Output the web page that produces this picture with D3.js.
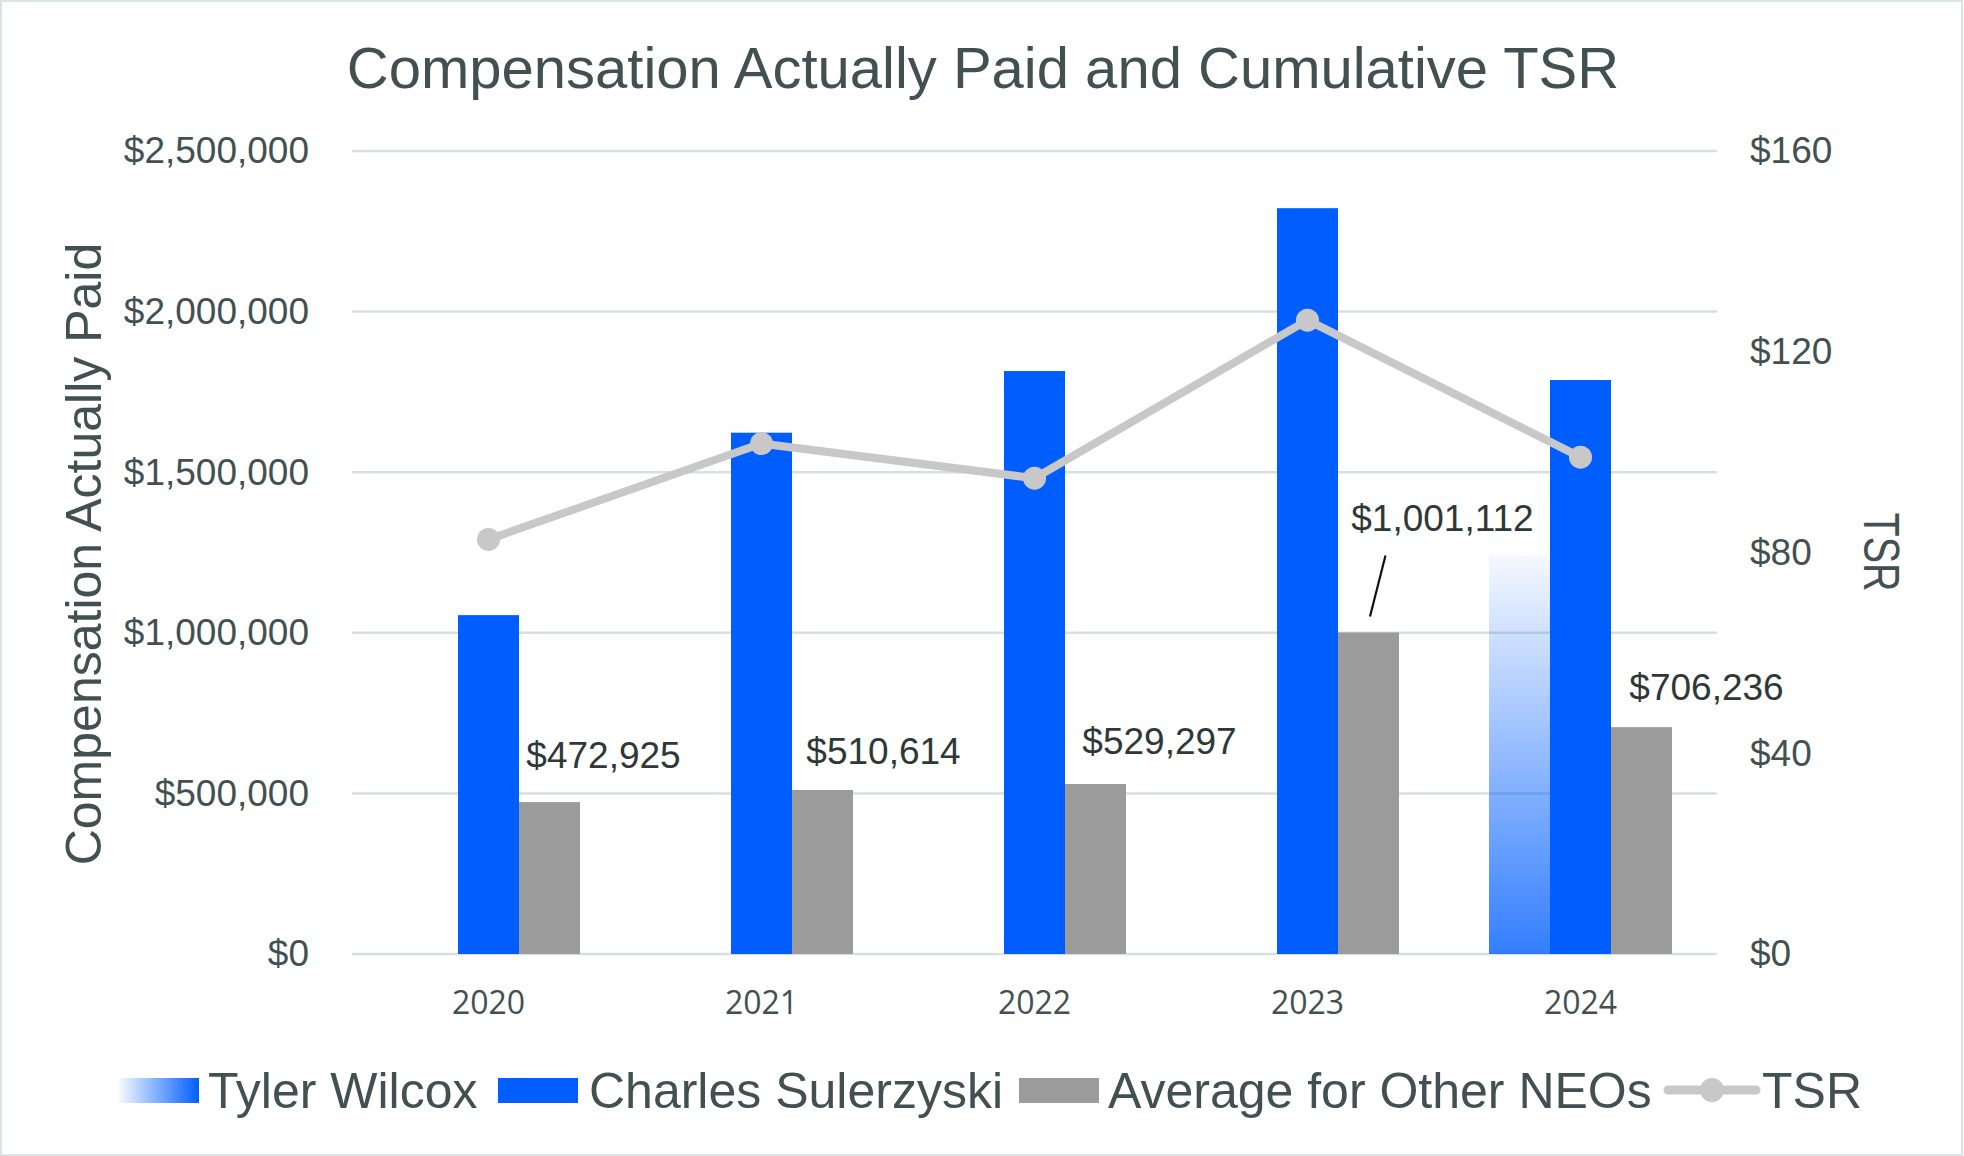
<!DOCTYPE html>
<html>
<head>
<meta charset="utf-8">
<script src="https://cdn.jsdelivr.net/npm/d3@7"></script>
<style>
  html, body { margin: 0; padding: 0; background: #ffffff; }
  svg { display: block; }
</style>
</head>
<body>
<svg id="chart" width="1964" height="1156"></svg>
<script>
// ---------- data ----------
const years = ["2020", "2021", "2022", "2023", "2024"];
const seriesNames = ["Tyler Wilcox", "Charles Sulerzyski", "Average for Other NEOs"];
const tylerWilcox = [null, null, null, null, 1242000];
const charlesSulerzyski = [1055000, 1623000, 1815000, 2322000, 1787000];
const avgOtherNEOs = [472925, 510614, 529297, 1001112, 706236];
const tsr = [82.6, 101.7, 94.8, 126.3, 99.0];
const leftTicks = [0, 500000, 1000000, 1500000, 2000000, 2500000];
const rightTicks = [0, 40, 80, 120, 160];

// ---------- layout / style ----------
const W = 1964, H = 1156;
const plot = { left: 352, right: 1717, top: 151, bottom: 954 };
const textColor = "#435052";
const gridColor = "#d9dfdf";
const blue = "#005eff";
const gray = "#9b9b9b";
const tsrColor = "#c8c8c8";
const labelColor = "#2f3838";
// manual data-label placement (offset from top-centre of the grey bar)
const labelOffsets = [
  { dx: 54, dy: -34 },
  { dx: 61, dy: -26 },
  { dx: 64, dy: -30 },
  { dx: 74, dy: -101 },
  { dx: 65, dy: -27 }
];

const svg = d3.select("#chart");

// outer border
svg.append("rect")
  .attr("x", 1).attr("y", 1).attr("width", W - 3).attr("height", H - 2)
  .attr("fill", "#ffffff").attr("stroke", "#dde2e2").attr("stroke-width", 2);

const defs = svg.append("defs");
const gV = defs.append("linearGradient").attr("id", "tylerV")
  .attr("x1", 0).attr("y1", 0).attr("x2", 0).attr("y2", 1);
gV.append("stop").attr("offset", "0%").attr("stop-color", blue).attr("stop-opacity", 0.04);
gV.append("stop").attr("offset", "100%").attr("stop-color", blue).attr("stop-opacity", 0.8);
const gH = defs.append("linearGradient").attr("id", "tylerH")
  .attr("x1", 0).attr("y1", 0).attr("x2", 1).attr("y2", 0);
gH.append("stop").attr("offset", "0%").attr("stop-color", blue).attr("stop-opacity", 0.04);
gH.append("stop").attr("offset", "100%").attr("stop-color", blue).attr("stop-opacity", 1);

// ---------- scales ----------
const x = d3.scaleBand().domain(years).range([plot.left, plot.right])
  .paddingInner(0.3297).paddingOuter(0.3297 / 2);
const xs = d3.scaleBand().domain(seriesNames).range([0, x.bandwidth()]);
const y = d3.scaleLinear().domain([0, 2500000]).range([plot.bottom, plot.top]);
const y2 = d3.scaleLinear().domain([0, 160]).range([plot.bottom, plot.top]);

// ---------- gridlines ----------
svg.append("g").selectAll("line").data(leftTicks).join("line")
  .attr("x1", plot.left).attr("x2", plot.right)
  .attr("y1", d => y(d)).attr("y2", d => y(d))
  .attr("stroke", gridColor).attr("stroke-width", 2.5);

// ---------- axes ----------
const fmtMoney = d3.format("$,.0f");
const leftAxis = svg.append("g").attr("transform", `translate(${plot.left - 43},0)`)
  .call(d3.axisLeft(y).tickValues(leftTicks).tickFormat(fmtMoney).tickSize(0).tickPadding(0));
leftAxis.select(".domain").remove();
leftAxis.selectAll("text")
  .attr("font-family", "Liberation Sans, Arial, sans-serif")
  .attr("font-size", 37).attr("fill", textColor).attr("text-anchor", "end");

const rightAxis = svg.append("g").attr("transform", `translate(1750,0)`)
  .call(d3.axisRight(y2).tickValues(rightTicks).tickFormat(d => "$" + d).tickSize(0).tickPadding(0));
rightAxis.select(".domain").remove();
rightAxis.selectAll("text")
  .attr("font-family", "Liberation Sans, Arial, sans-serif")
  .attr("font-size", 37).attr("fill", textColor).attr("text-anchor", "start");

const bottomAxis = svg.append("g").attr("transform", `translate(0,${plot.bottom})`)
  .call(d3.axisBottom(x).tickSize(0).tickPadding(0));
bottomAxis.select(".domain").remove();
bottomAxis.selectAll("text")
  .attr("font-family", "Open Sans, sans-serif")
  .attr("font-size", 32).attr("fill", textColor)
  .attr("dy", null).attr("y", 60);

// ---------- bars ----------
const barData = [];
years.forEach((yr, i) => {
  barData.push({ yr, s: seriesNames[0], v: tylerWilcox[i], fill: "url(#tylerV)" });
  barData.push({ yr, s: seriesNames[1], v: charlesSulerzyski[i], fill: blue });
  barData.push({ yr, s: seriesNames[2], v: avgOtherNEOs[i], fill: gray });
});
svg.append("g").selectAll("rect").data(barData.filter(d => d.v != null)).join("rect")
  .attr("x", d => x(d.yr) + xs(d.s))
  .attr("width", xs.bandwidth())
  .attr("y", d => y(d.v))
  .attr("height", d => y(0) - y(d.v))
  .attr("fill", d => d.fill);

// ---------- TSR line ----------
const lineGen = d3.line()
  .x((d, i) => x(years[i]) + x.bandwidth() / 2)
  .y(d => y2(d));
svg.append("path").datum(tsr)
  .attr("d", lineGen).attr("fill", "none")
  .attr("stroke", tsrColor).attr("stroke-width", 8).attr("stroke-linejoin", "round");
svg.append("g").selectAll("circle").data(tsr).join("circle")
  .attr("cx", (d, i) => x(years[i]) + x.bandwidth() / 2)
  .attr("cy", d => y2(d)).attr("r", 11.5).attr("fill", tsrColor);

// ---------- data labels ----------
const grayCx = i => x(years[i]) + xs(seriesNames[2]) + xs.bandwidth() / 2;
svg.append("g").selectAll("text").data(avgOtherNEOs).join("text")
  .attr("x", (d, i) => grayCx(i) + labelOffsets[i].dx)
  .attr("y", (d, i) => y(d) + labelOffsets[i].dy)
  .attr("text-anchor", "middle")
  .attr("font-family", "Liberation Sans, Arial, sans-serif")
  .attr("font-size", 37).attr("fill", labelColor)
  .text(d => fmtMoney(d));
// leader line for 2023 label
{
  const i = 3;
  svg.append("line")
    .attr("x1", grayCx(i) + 17).attr("y1", y(avgOtherNEOs[i]) - 77)
    .attr("x2", grayCx(i) + 1.5).attr("y2", y(avgOtherNEOs[i]) - 16)
    .attr("stroke", "#111").attr("stroke-width", 2.2);
}

// ---------- titles ----------
svg.append("text").attr("x", 983).attr("y", 88).attr("text-anchor", "middle")
  .attr("font-family", "Liberation Sans, Arial, sans-serif")
  .attr("font-size", 58).attr("fill", textColor)
  .text("Compensation Actually Paid and Cumulative TSR");

svg.append("text").attr("transform", "translate(101,554) rotate(-90)")
  .attr("text-anchor", "middle")
  .attr("font-family", "Liberation Sans, Arial, sans-serif")
  .attr("font-size", 50).attr("fill", textColor)
  .text("Compensation Actually Paid");

svg.append("text").attr("transform", "translate(1864,552) rotate(90)")
  .attr("text-anchor", "middle")
  .attr("font-family", "Liberation Sans, Arial, sans-serif")
  .attr("font-size", 50).attr("fill", textColor)
  .attr("textLength", 79).attr("lengthAdjust", "spacingAndGlyphs")
  .text("TSR");

// ---------- legend ----------
const legendItems = [
  { name: seriesNames[0], type: "rect", fill: "url(#tylerH)", sx: 119, tx: 208 },
  { name: seriesNames[1], type: "rect", fill: blue, sx: 498, tx: 589 },
  { name: seriesNames[2], type: "rect", fill: gray, sx: 1019, tx: 1108 },
  { name: "TSR", type: "line", fill: tsrColor, sx: 1668, tx: 1762 }
];
const lg = svg.append("g");
legendItems.forEach(it => {
  if (it.type === "rect") {
    lg.append("rect").attr("x", it.sx).attr("y", 1078).attr("width", 80).attr("height", 25).attr("fill", it.fill);
  } else {
    lg.append("line").attr("x1", it.sx).attr("x2", it.sx + 88).attr("y1", 1090).attr("y2", 1090)
      .attr("stroke", it.fill).attr("stroke-width", 9).attr("stroke-linecap", "round");
    lg.append("circle").attr("cx", it.sx + 44).attr("cy", 1090).attr("r", 12).attr("fill", it.fill);
  }
  lg.append("text").attr("x", it.tx).attr("y", 1108)
    .attr("font-family", "Liberation Sans, Arial, sans-serif")
    .attr("font-size", 50).attr("fill", textColor).text(it.name);
});
</script>
</body>
</html>
